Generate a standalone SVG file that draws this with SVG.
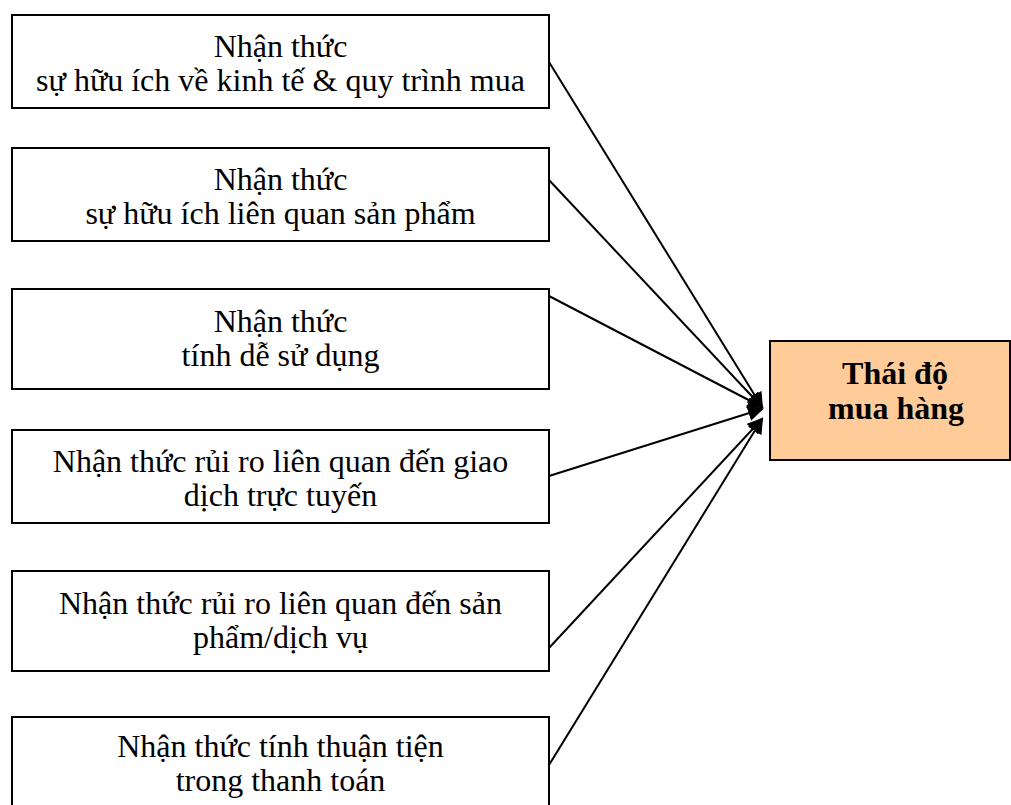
<svg xmlns="http://www.w3.org/2000/svg" width="1011" height="805" viewBox="0 0 1011 805">
<defs>
<style>
.box{fill:#fff;stroke:#000;stroke-width:2}
.tgt{fill:#FFCC99;stroke:#000;stroke-width:2}
.t{font-family:"Liberation Serif","Times New Roman",serif;font-size:32px;fill:#000;text-anchor:middle}
.b{font-weight:bold}
.c{stroke:#000;stroke-width:2;fill:none;marker-end:url(#ah)}
</style>
<marker id="ah" markerWidth="8" markerHeight="8" refX="7" refY="4" orient="auto" markerUnits="strokeWidth">
<path d="M0,0 L8,4 L0,8 Z" fill="#000"/>
</marker>
</defs>
<rect width="1011" height="805" fill="#fff"/>
<g id="connectors">
<line class="c" x1="549" y1="62" x2="762" y2="407"/>
<line class="c" x1="549" y1="180" x2="762" y2="407"/>
<line class="c" x1="549" y1="296" x2="762" y2="407"/>
<line class="c" x1="549" y1="476" x2="762" y2="409"/>
<line class="c" x1="549" y1="648" x2="762" y2="419"/>
<line class="c" x1="549" y1="765" x2="762" y2="419"/>
</g>
<g id="n1"><rect class="box" x="12" y="15" width="537" height="93"/>
<text class="t" x="280.5" y="57">Nhận thức</text><text class="t" x="280.5" y="91">sự hữu ích về kinh tế &amp; quy trình mua</text></g>
<g id="n2"><rect class="box" x="12" y="148" width="537" height="93"/>
<text class="t" x="280.5" y="190">Nhận thức</text><text class="t" x="280.5" y="224">sự hữu ích liên quan sản phẩm</text></g>
<g id="n3"><rect class="box" x="12" y="289" width="537" height="100"/>
<text class="t" x="280.5" y="332">Nhận thức</text><text class="t" x="280.5" y="366">tính dễ sử dụng</text></g>
<g id="n4"><rect class="box" x="12" y="430" width="537" height="93"/>
<text class="t" x="280.5" y="472">Nhận thức rủi ro liên quan đến giao</text><text class="t" x="280.5" y="506">dịch trực tuyến</text></g>
<g id="n5"><rect class="box" x="12" y="571" width="537" height="100"/>
<text class="t" x="280.5" y="614">Nhận thức rủi ro liên quan đến sản</text><text class="t" x="280.5" y="648">phẩm/dịch vụ</text></g>
<g id="n6"><rect class="box" x="12" y="717" width="537" height="100"/>
<text class="t" x="280.5" y="757">Nhận thức tính thuận tiện</text><text class="t" x="280.5" y="791">trong thanh toán</text></g>
<g id="target"><rect class="tgt" x="770" y="341" width="240" height="119"/>
<text class="t b" x="895" y="384">Thái độ</text><text class="t b" x="896" y="419">mua hàng</text></g>
</svg>
